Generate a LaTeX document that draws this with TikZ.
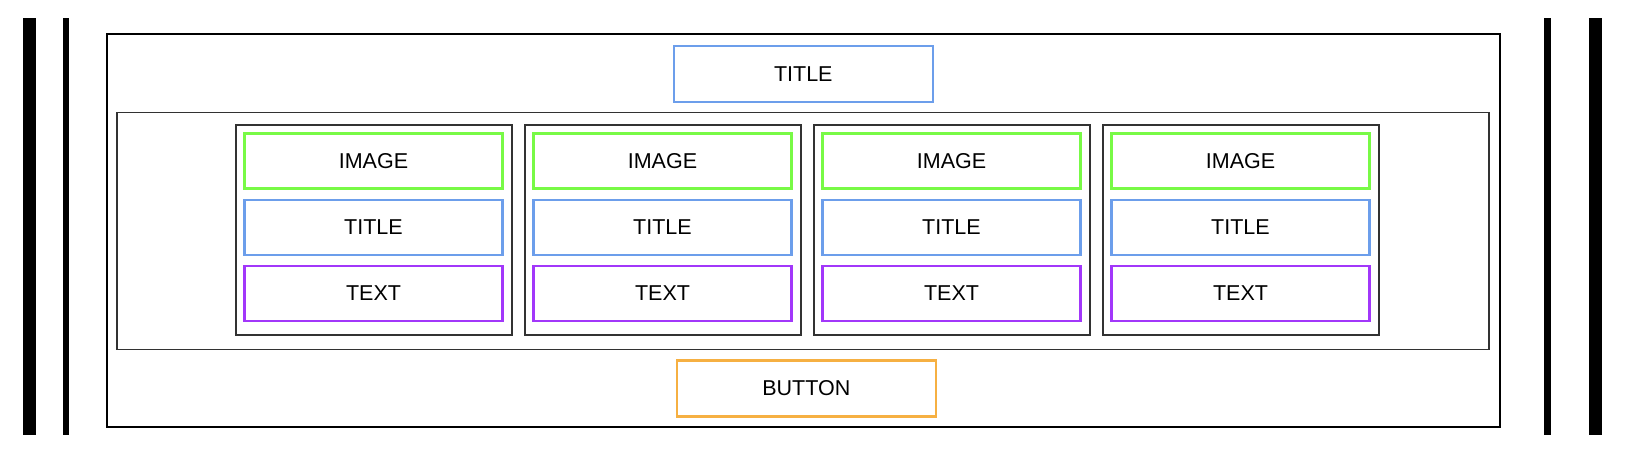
\documentclass[tikz,border=0pt]{standalone}
\usepackage{fontspec}
\setmainfont{Liberation Sans}
\definecolor{cgreen}{RGB}{120,250,70}
\definecolor{cblue}{RGB}{108,158,235}
\definecolor{cpurple}{RGB}{162,55,250}
\definecolor{corange}{RGB}{246,176,66}
\definecolor{cdark}{RGB}{50,50,50}
\tikzset{
  lbl/.style={font=\fontsize{21.5}{25}\selectfont, text=black},
  cbox/.style={draw=#1, line width=2.2pt, inner sep=0pt, outer sep=0pt, minimum width=258pt, minimum height=55pt, lbl},
  card/.style={draw=cdark, line width=2pt, inner sep=0pt, outer sep=0pt, minimum width=276pt, minimum height=210pt},
  bar/.style={fill=black},
}
\begin{document}
\begin{tikzpicture}[x=1pt,y=-1pt]
\useasboundingbox (0,0) rectangle (1626,454);
\fill[white] (0,0) rectangle (1626,454);
% side bars
\fill[bar] (23,18) rectangle (36,435);
\fill[bar] (63,18) rectangle (69,435);
\fill[bar] (1544,18) rectangle (1551,435);
\fill[bar] (1589,18) rectangle (1602,435);
% outer and inner frames
\node[draw=black, line width=2.6pt, inner sep=0pt, minimum width=1393pt, minimum height=393pt] (outer) at (803.5,230.5) {};
\node[draw=cdark, line width=1.8pt, inner sep=0pt, minimum width=1372pt, minimum height=237pt] (inner) at (803,231) {};
% title and button
\node[cbox=cblue, minimum width=259pt, minimum height=56pt] (title) at (803.3,74.4) {TITLE};
\node[cbox=corange, minimum width=259pt, minimum height=56pt] (button) at (806.3,388.5) {BUTTON};
% cards
\foreach \i/\cx in {1/373.5,2/662.5,3/951.5,4/1240.5}{
  \node[card] (card\i) at (\cx,229.9) {};
  \node[cbox=cgreen] (img\i) at (\cx,161) {IMAGE};
  \node[cbox=cblue] (ttl\i) at (\cx,227.3) {TITLE};
  \node[cbox=cpurple] (txt\i) at (\cx,293.4) {TEXT};
}
\end{tikzpicture}
\end{document}
